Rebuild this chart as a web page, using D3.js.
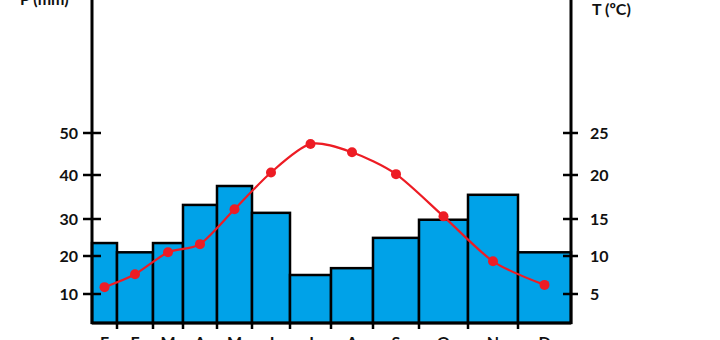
<!DOCTYPE html>
<html>
<head>
<meta charset="utf-8">
<script src="https://cdn.jsdelivr.net/npm/d3@7"></script>
<style>
  html, body { margin: 0; padding: 0; background: #fff; overflow: hidden; }
  text { font-family: Lato, "Open Sans", sans-serif; font-weight: bold; fill: #111; }
</style>
</head>
<body>
<div id="chart"></div>
<script>
const months = ["E", "F", "M", "A", "M", "J", "J", "A", "S", "O", "N", "D"];
const precip = [23.5, 21, 23.5, 33.2, 37.5, 31.4, 15, 16.8, 24.9, 29.8, 35.5, 21];
const temp = [5.9, 7.6, 10.5, 11.6, 16.1, 20.3, 23.7, 22.7, 20.1, 15.3, 9.3, 6.2];
const precipTicks = [10, 20, 30, 40, 50];
const tempTicks = [5, 10, 15, 20, 25];

document.addEventListener("DOMContentLoaded", () => {
  const width = 720;
  const height = 340;
  const left = 92;
  const right = 571;
  const bottom = 323;

  const svg = d3.select("#chart")
    .append("svg")
    .attr("width", width)
    .attr("height", height);

  // the drawing is hand made, so bars and ticks are not evenly spaced
  const x = d3.scaleLinear()
    .domain(d3.range(13))
    .range([left, 117, 153, 183, 217, 252, 290, 331, 373, 419, 468, 518, right]);

  const yP = d3.scaleLinear()
    .domain(precipTicks)
    .range([294, 256, 219, 175, 133]);

  const yT = d3.scaleLinear()
    .domain(tempTicks)
    .range([294, 256, 219, 175, 133]);

  const mid = (i) => (x(i) + x(i + 1)) / 2;

  // bars
  svg.append("g")
    .selectAll("rect")
    .data(precip)
    .join("rect")
    .attr("x", (d, i) => x(i))
    .attr("y", (d) => yP(d))
    .attr("width", (d, i) => x(i + 1) - x(i))
    .attr("height", (d) => bottom - yP(d))
    .attr("fill", "#00a2e8")
    .attr("stroke", "#000")
    .attr("stroke-width", 2.5);

  // axes lines
  svg.append("line")
    .attr("x1", left).attr("x2", left)
    .attr("y1", 0).attr("y2", bottom + 1)
    .attr("stroke", "#000").attr("stroke-width", 3);
  svg.append("line")
    .attr("x1", right).attr("x2", right)
    .attr("y1", 0).attr("y2", bottom + 1)
    .attr("stroke", "#000").attr("stroke-width", 3);
  svg.append("line")
    .attr("x1", left).attr("x2", right)
    .attr("y1", bottom).attr("y2", bottom)
    .attr("stroke", "#000").attr("stroke-width", 3);

  // left ticks
  const lt = svg.append("g").selectAll("g").data(precipTicks).join("g");
  lt.append("line")
    .attr("x1", left - 9).attr("x2", left + 9)
    .attr("y1", (d) => yP(d)).attr("y2", (d) => yP(d))
    .attr("stroke", "#000").attr("stroke-width", 2.5);
  lt.append("text")
    .attr("x", left - 14)
    .attr("y", (d) => yP(d) + 6)
    .attr("text-anchor", "end")
    .attr("font-size", 16)
    .text((d) => d);

  // right ticks
  const rt = svg.append("g").selectAll("g").data(tempTicks).join("g");
  rt.append("line")
    .attr("x1", right - 8).attr("x2", right + 7)
    .attr("y1", (d) => yT(d)).attr("y2", (d) => yT(d))
    .attr("stroke", "#000").attr("stroke-width", 2.5);
  rt.append("text")
    .attr("x", right + 19)
    .attr("y", (d) => yT(d) + 6)
    .attr("text-anchor", "start")
    .attr("font-size", 16)
    .text((d) => d);

  // month ticks and labels
  svg.append("g")
    .selectAll("line")
    .data(d3.range(1, 12))
    .join("line")
    .attr("x1", (d) => x(d)).attr("x2", (d) => x(d))
    .attr("y1", bottom).attr("y2", bottom + 6)
    .attr("stroke", "#000").attr("stroke-width", 2.5);

  svg.append("g")
    .selectAll("text")
    .data(months)
    .join("text")
    .attr("x", (d, i) => mid(i))
    .attr("y", 348)
    .attr("text-anchor", "middle")
    .attr("font-size", 16)
    .text((d) => d);

  // axis titles
  svg.append("text")
    .attr("x", 20).attr("y", 5)
    .attr("font-size", 16)
    .text("P (mm)");
  svg.append("text")
    .attr("x", 592).attr("y", 15)
    .attr("font-size", 16)
    .text("T (ºC)");

  // temperature curve
  const line = d3.line()
    .x((d, i) => mid(i))
    .y((d) => yT(d))
    .curve(d3.curveCardinal.tension(0.2));

  svg.append("path")
    .datum(temp)
    .attr("d", line)
    .attr("fill", "none")
    .attr("stroke", "#ed1c24")
    .attr("stroke-width", 2.2);

  svg.append("g")
    .selectAll("circle")
    .data(temp)
    .join("circle")
    .attr("cx", (d, i) => mid(i))
    .attr("cy", (d) => yT(d))
    .attr("r", 5)
    .attr("fill", "#ed1c24");
});
</script>
</body>
</html>
